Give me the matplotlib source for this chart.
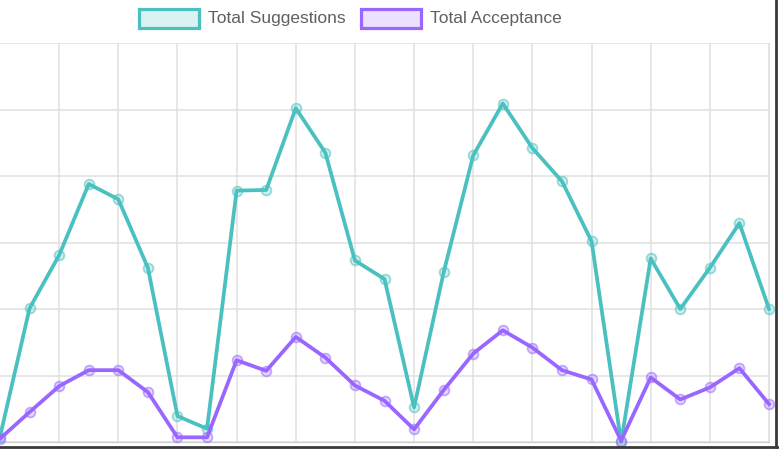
import matplotlib.pyplot as plt
from matplotlib.patches import Rectangle
from matplotlib.lines import Line2D

# values (y axis has no visible labels, 100 per grid line)
suggestions = [8, 201, 281, 388, 365, 262, 39, 20, 378, 379, 502, 435, 273, 245,
               52, 255, 431, 509, 442, 392, 302, 0, 276, 200, 262, 329, 200]
acceptance = [5, 45, 84, 108, 108, 75, 7, 7, 123, 107, 158, 127, 85, 62,
              19, 78, 133, 168, 142, 108, 94, 2, 97, 64, 82, 111, 57]
series_names = ["Total Suggestions", "Total Acceptance"]
x = list(range(len(suggestions)))

teal = (75/255, 192/255, 192/255)
purple = (153/255, 102/255, 255/255)

W, H = 780, 450
fig = plt.figure(figsize=(W/100, H/100), dpi=100)
fig.patch.set_facecolor("white")

# plot area in pixels: left 0, right 769, top 43, bottom 442
ax = fig.add_axes([0/W, (H-442)/H, 769/W, (442-43)/H])
ax.set_xlim(0, len(x) - 1)
ax.set_ylim(0, 600)
ax.set_xticks(x[2::2])
ax.set_yticks(range(0, 601, 100))
ax.tick_params(length=0, labelleft=False, labelbottom=False)
ax.grid(True, color="#e0e0e0", linewidth=1.1)
ax.set_axisbelow(True)
for side in ["left", "top"]:
    ax.spines[side].set_visible(False)
ax.spines["right"].set_color("#e0e0e0")
ax.spines["bottom"].set_color("#cccccc")

for vals, col in [(suggestions, teal), (acceptance, purple)]:
    ax.plot(x, vals, color=col, linewidth=2.7, clip_on=False, zorder=3,
            marker="o", markersize=7, markerfacecolor=col + (0.25,),
            markeredgecolor=col + (0.55,), markeredgewidth=1.3)

# legend drawn by hand, top centre
def fx(px):
    return px / W

def fy(py):
    return (H - py) / H

for (bx, tx), col, name in zip([(139, 208), (361, 430)], [teal, purple], series_names):
    fig.patches.append(Rectangle((fx(bx), fy(27.5)), 60/W, 18.5/H, transform=fig.transFigure,
                                 facecolor=col + (0.2,), edgecolor=col, linewidth=2.3))
    fig.text(fx(tx), fy(18), name, fontsize=12.5, color="#606060",
             family="Liberation Sans", va="center", ha="left")

# dark frame of the screenshot on right and bottom
fig.lines.append(Line2D([fx(776), fx(776)], [fy(0), fy(447)], transform=fig.transFigure,
                        color="#3a3a3a", linewidth=2))
fig.lines.append(Line2D([fx(0), fx(777)], [fy(447), fy(447)], transform=fig.transFigure,
                        color="#3a3a3a", linewidth=2))

fig.savefig("out.png", dpi=100)
